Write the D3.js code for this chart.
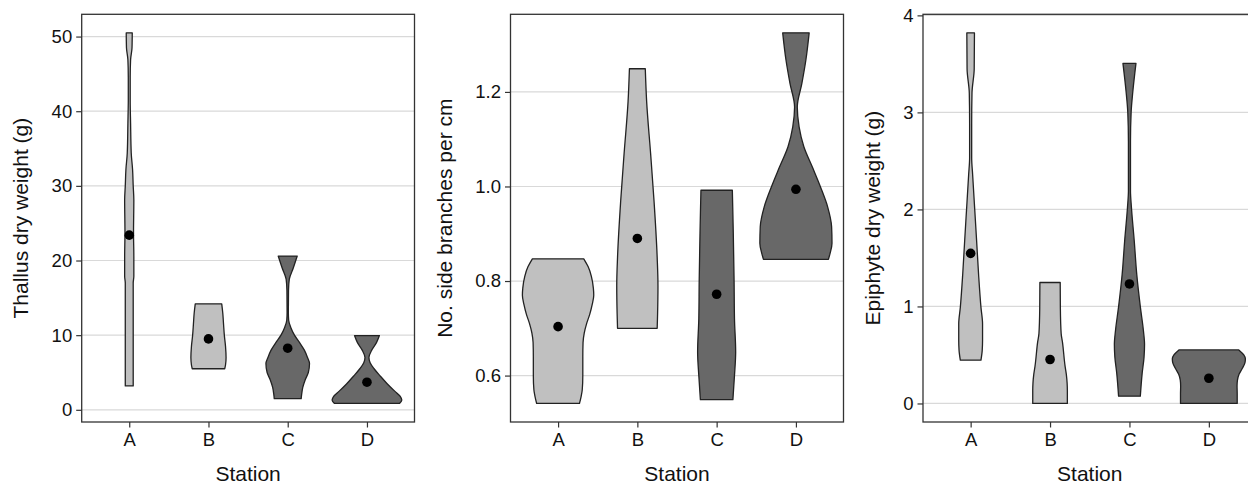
<!DOCTYPE html>
<html>
<head>
<meta charset="utf-8">
<script src="https://cdn.jsdelivr.net/npm/d3@7"></script>
<style>
  html, body { margin: 0; padding: 0; background: #fff; }
  svg { display: block; font-family: "Liberation Sans", Arial, sans-serif; }
</style>
</head>
<body>
<svg id="chart" width="1248" height="487"></svg>
<script>
// stations on the x axis
var stations = ["A", "B", "C", "D"];

// violin outlines: [value, relative half width]
var thallusViolins = [
    [[3.2, 0.05], [6.7, 0.05], [12, 0.05], [17, 0.05], [17.9, 0.058], [20.5, 0.058], [23.7, 0.054],
     [28.1, 0.058], [30, 0.05], [32.2, 0.042], [34.4, 0.025], [38.4, 0.017], [41.5, 0.012],
     [44.6, 0.012], [46.9, 0.017], [48.5, 0.035], [50.5, 0.038]],
    [[5.5, 0.205], [6, 0.215], [7, 0.222], [8.5, 0.215], [10, 0.2], [11.5, 0.19], [13, 0.18], [14.2, 0.167]],
    [[1.5, 0.17], [2, 0.175], [3, 0.19], [4, 0.22], [5, 0.26], [6.2, 0.275], [7, 0.25], [8, 0.21],
     [9, 0.15], [10, 0.085], [11, 0.04], [12, 0.012], [13, 0.008], [16, 0.01], [17.5, 0.02],
     [19, 0.07], [20.6, 0.12]],
    [[0.85, 0.41], [1.3, 0.44], [1.8, 0.42], [2.5, 0.35], [3.5, 0.255], [4.5, 0.17], [5.5, 0.09],
     [6.3, 0.04], [7, 0.025], [8, 0.06], [9, 0.12], [9.95, 0.157]]
];
var thallusMeans = [23.4, 9.5, 8.25, 3.7];
var thallusTicks = [0, 10, 20, 30, 40, 50];

var branchViolins = [
    [[0.541, 0.27], [0.555, 0.29], [0.57, 0.305], [0.6, 0.312], [0.64, 0.312], [0.67, 0.315],
     [0.69, 0.33], [0.71, 0.36], [0.73, 0.4], [0.75, 0.43], [0.77, 0.45], [0.785, 0.445],
     [0.81, 0.42], [0.83, 0.38], [0.847, 0.324]],
    [[0.7, 0.25], [0.73, 0.255], [0.79, 0.26], [0.85, 0.25], [0.97, 0.21], [1.07, 0.167],
     [1.18, 0.117], [1.249, 0.1]],
    [[0.549, 0.205], [0.6, 0.225], [0.65, 0.24], [0.72, 0.225], [0.8, 0.22], [0.9, 0.21], [0.992, 0.198]],
    [[0.846, 0.41], [0.858, 0.43], [0.88, 0.455], [0.915, 0.45], [0.957, 0.4], [0.999, 0.31],
     [1.04, 0.21], [1.084, 0.1], [1.126, 0.04], [1.168, 0.017], [1.218, 0.075], [1.267, 0.125],
     [1.325, 0.167]]
];
var branchMeans = [0.7035, 0.89, 0.772, 0.994];
var branchTicks = [0.6, 0.8, 1.0, 1.2];

var epiphyteViolins = [
    [[0.446, 0.13], [0.55, 0.146], [0.65, 0.15], [0.82, 0.15], [0.99, 0.13], [1.33, 0.1],
     [1.68, 0.075], [2.02, 0.05], [2.36, 0.025], [2.53, 0.013], [2.88, 0.013], [3.2, 0.017],
     [3.45, 0.045], [3.82, 0.048]],
    [[0, 0.218], [0.13, 0.218], [0.21, 0.215], [0.3, 0.205], [0.38, 0.19], [0.64, 0.155],
     [0.72, 0.14], [0.98, 0.13], [1.247, 0.128]],
    [[0.075, 0.137], [0.31, 0.16], [0.48, 0.184], [0.61, 0.19], [0.75, 0.176], [0.99, 0.138],
     [1.33, 0.092], [1.68, 0.06], [2.02, 0.025], [2.19, 0.013], [2.36, 0.013], [2.7, 0.013],
     [3.0, 0.021], [3.21, 0.042], [3.505, 0.082]],
    [[0, 0.357], [0.1, 0.357], [0.18, 0.355], [0.24, 0.36], [0.3, 0.38], [0.36, 0.42],
     [0.42, 0.455], [0.46, 0.46], [0.5, 0.44], [0.552, 0.377]]
];
var epiphyteMeans = [1.547, 0.453, 1.232, 0.26];
var epiphyteTicks = [0, 1, 2, 3, 4];

var stationFill = ["#c0c0c0", "#c0c0c0", "#686868", "#686868"];

var svg = d3.select("#chart");
var panelTop = 14.3, panelBottom = 422;

function drawPanel(opts) {
    var g = svg.append("g");

    // y range from the data, padded 5% like ggplot
    var all = [];
    opts.violins.forEach(function(v) {
        v.forEach(function(p) { all.push(p[0]); });
    });
    var ext = d3.extent(all);
    var pad = (ext[1] - ext[0]) * 0.05;

    var x = d3.scalePoint()
        .domain(stations)
        .range([opts.left, opts.right])
        .padding(0.6);
    var y = d3.scaleLinear()
        .domain([ext[0] - pad, ext[1] + pad])
        .range([panelBottom, panelTop]);
    var step = x.step();

    // grid
    g.append("g").selectAll("line")
        .data(opts.ticks)
        .enter()
        .append("line")
        .attr("x1", opts.left)
        .attr("x2", opts.right)
        .attr("y1", function(d) { return y(d); })
        .attr("y2", function(d) { return y(d); })
        .attr("stroke", "#d9d9d9")
        .attr("stroke-width", 1.2);

    // violins
    stations.forEach(function(s, i) {
        var cx = x(s);
        var area = d3.area()
            .curve(d3.curveMonotoneY)
            .y(function(d) { return y(d[0]); })
            .x0(function(d) { return cx - d[1] * step; })
            .x1(function(d) { return cx + d[1] * step; });
        g.append("path")
            .datum(opts.violins[i])
            .attr("d", area)
            .attr("fill", stationFill[i])
            .attr("stroke", "#222")
            .attr("stroke-width", 1.3)
            .attr("stroke-linejoin", "round");
    });

    // means
    g.append("g").selectAll("circle")
        .data(opts.means)
        .enter()
        .append("circle")
        .attr("cx", function(d, i) { return x(stations[i]); })
        .attr("cy", function(d) { return y(d); })
        .attr("r", 4.8)
        .attr("fill", "#000");

    // panel border
    g.append("rect")
        .attr("x", opts.left)
        .attr("y", panelTop)
        .attr("width", opts.right - opts.left)
        .attr("height", panelBottom - panelTop)
        .attr("fill", "none")
        .attr("stroke", "#333")
        .attr("stroke-width", 1.3);

    // axes
    var yAxis = g.append("g")
        .attr("transform", "translate(" + opts.left + ",0)")
        .call(d3.axisLeft(y).tickValues(opts.ticks).tickFormat(opts.format).tickSize(5.5).tickPadding(4));
    var xAxis = g.append("g")
        .attr("transform", "translate(0," + panelBottom + ")")
        .call(d3.axisBottom(x).tickSize(5.5).tickPadding(5));
    [yAxis, xAxis].forEach(function(a) {
        a.select(".domain").remove();
        a.selectAll(".tick line").attr("stroke", "#333").attr("stroke-width", 1.2);
        a.selectAll(".tick text")
            .attr("fill", "#111")
            .style("font-size", "18.5px")
            .style("font-family", "'Liberation Sans', Arial, sans-serif");
    });

    // titles
    g.append("text")
        .attr("x", (opts.left + opts.right) / 2)
        .attr("y", 481)
        .attr("text-anchor", "middle")
        .style("font-size", "21px")
        .attr("fill", "#111")
        .text("Station");
    g.append("text")
        .attr("transform", "translate(" + opts.titleX + "," + (panelTop + panelBottom) / 2 + ") rotate(-90)")
        .attr("text-anchor", "middle")
        .style("font-size", "21px")
        .attr("fill", "#111")
        .text(opts.title);
}

drawPanel({
    left: 81.7, right: 414.5, titleX: 28,
    violins: thallusViolins, means: thallusMeans, ticks: thallusTicks,
    format: d3.format("d"), title: "Thallus dry weight (g)"
});
drawPanel({
    left: 510.5, right: 843.5, titleX: 452,
    violins: branchViolins, means: branchMeans, ticks: branchTicks,
    format: d3.format(".1f"), title: "No. side branches per cm"
});
drawPanel({
    left: 923, right: 1256.5, titleX: 880,
    violins: epiphyteViolins, means: epiphyteMeans, ticks: epiphyteTicks,
    format: d3.format("d"), title: "Epiphyte dry weight (g)"
});
</script>
</body>
</html>
